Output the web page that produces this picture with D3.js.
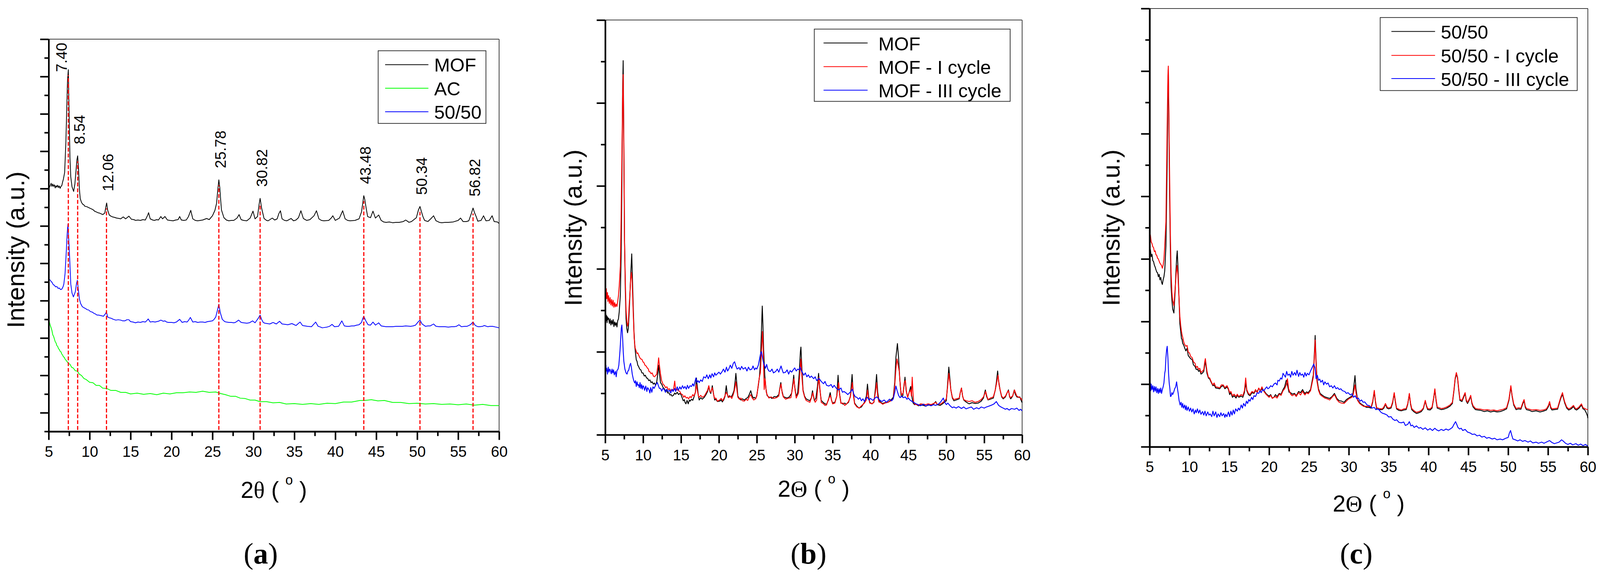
<!DOCTYPE html>
<html>
<head>
<meta charset="utf-8">
<script src="https://cdn.jsdelivr.net/npm/d3@7"></script>
<style>
  html, body { margin: 0; padding: 0; background: #fff; overflow: hidden; width: 100%; height: 100%; }
  svg { display: block; }
</style>
</head>
<body>
<div id="chart"></div>
<script>
// x axis (2 theta, degrees)
var xMajorTicks = [5, 10, 15, 20, 25, 30, 35, 40, 45, 50, 55, 60];
var xMinorTicks = [7.5, 12.5, 17.5, 22.5, 27.5, 32.5, 37.5, 42.5, 47.5, 52.5, 57.5];

// legend names
var aNames = ['MOF', 'AC', '50/50'];
var bNames = ['MOF', 'MOF - I cycle', 'MOF - III cycle'];
var cNames = ['50/50', '50/50 - I cycle', '50/50 - III cycle'];

// peak positions marked in panel (a)
var aPeaks = ['7.40', '8.54', '12.06', '25.78', '30.82', '43.48', '50.34', '56.82'];

// intensity (a.u.), flat lists of 2theta, intensity
var aMOF = [5.0,640, 5.1,632, 5.2,636, 5.3,642, 5.4,634, 5.5,640, 5.6,634, 5.7,638, 5.8,630, 5.9,636, 6.0,632, 6.1,637, 6.2,631, 6.3,635, 6.4,629, 6.5,634, 6.6,636, 6.7,645, 6.8,653, 6.95,670, 7.1,748, 7.2,828, 7.3,908, 7.4,936, 7.5,818, 7.6,708, 7.7,658, 7.85,633, 8.05,621, 8.2,640, 8.35,678, 8.45,703, 8.54,713, 8.65,678, 8.75,628, 8.85,603, 9.0,593, 9.15,588, 9.3,586, 9.45,582, 9.6,582, 9.8,580, 10.0,578, 10.2,576, 10.4,574, 10.6,570, 10.8,568, 11.0,566, 11.2,565, 11.4,563, 11.6,561, 11.85,565, 12.0,583, 12.08,591, 12.2,573, 12.4,560, 12.6,557, 12.8,555, 13.0,554, 13.3,552, 13.6,551, 13.8,550, 14.1,555, 14.4,550, 14.8,557, 15.1,549, 15.4,548, 15.6,546, 15.9,547, 16.2,546, 16.5,548, 16.8,547, 17.1,560, 17.2,566, 17.4,550, 17.7,547, 17.9,546, 18.2,548, 18.4,547, 18.7,556, 18.9,550, 19.2,556, 19.5,547, 19.8,546, 20.2,545, 20.5,547, 20.8,548, 21.0,556, 21.2,547, 21.5,546, 21.8,547, 22.05,555, 22.35,572, 22.6,550, 22.9,546, 23.2,545, 23.5,546, 23.8,547, 24.3,551, 24.6,548, 25.0,558, 25.3,572, 25.5,590, 25.65,625, 25.78,651, 25.9,630, 26.0,600, 26.1,573, 26.4,553, 26.7,547, 27.0,545, 27.3,546, 27.6,546, 28.0,552, 28.25,561, 28.5,548, 28.8,546, 29.2,545, 29.6,552, 29.95,570, 30.2,550, 30.5,556, 30.7,588, 30.82,603, 31.0,578, 31.3,551, 31.6,546, 31.8,545, 32.3,552, 32.6,547, 32.9,550, 33.1,563, 33.3,571, 33.5,550, 33.8,546, 34.1,545, 34.6,551, 34.9,545, 35.2,547, 35.5,553, 35.8,571, 36.1,551, 36.5,546, 36.9,548, 37.4,558, 37.7,571, 38.0,550, 38.3,546, 38.6,545, 39.2,546, 39.5,552, 39.7,558, 40.0,546, 40.5,552, 40.9,571, 41.2,550, 41.5,546, 41.8,545, 42.4,546, 42.9,550, 43.2,568, 43.35,590, 43.48,610, 43.6,600, 43.75,580, 43.95,556, 44.3,553, 44.6,570, 44.9,552, 45.3,560, 45.6,546, 45.9,542, 46.2,541, 46.6,542, 47.0,540, 47.4,541, 47.8,541, 48.3,543, 48.6,547, 49.0,541, 49.3,543, 49.6,548, 49.9,553, 50.15,573, 50.34,582, 50.5,570, 50.7,556, 50.9,546, 51.3,543, 51.7,551, 52.0,558, 52.3,545, 52.7,541, 53.0,540, 53.4,541, 53.8,541, 54.4,542, 55.0,546, 55.3,552, 55.6,543, 56.0,543, 56.3,545, 56.6,563, 56.82,578, 57.0,566, 57.2,556, 57.4,544, 57.8,546, 58.1,558, 58.4,545, 58.8,546, 59.15,558, 59.4,543, 59.8,542, 60.0,538];

var aAC = [5.0,293, 5.1,282, 5.2,274, 5.3,268, 5.4,261, 5.5,250, 5.6,246, 5.7,239, 5.8,232, 5.9,229, 6.0,222, 6.1,220, 6.2,214, 6.3,212, 6.4,207, 6.5,206, 6.6,200, 6.7,198, 6.8,193, 6.9,192, 7.0,187, 7.2,182, 7.4,176, 7.6,174, 7.8,166, 8.0,164, 8.25,157, 8.5,156, 8.75,148, 9.0,145, 9.3,137, 9.6,134, 10.0,127, 10.4,126, 10.8,119, 11.2,119, 11.6,112, 12.1,111, 12.6,106, 13.2,106, 13.8,101, 14.4,101, 15.0,97, 15.8,99, 16.6,96, 17.4,98, 18.2,95, 19.0,99, 19.8,97, 20.6,100, 21.4,100, 22.2,102, 23.0,101, 23.8,104, 24.6,101, 25.4,102, 26.0,98, 26.6,95, 27.2,91, 27.8,91, 28.4,86, 29.0,85, 29.6,81, 30.2,81, 30.8,77, 31.6,77, 32.4,74, 33.2,75, 34.0,71, 35.0,72, 36.0,70, 37.0,72, 38.0,70, 39.0,73, 40.0,72, 41.0,76, 42.0,76, 43.0,80, 43.6,80, 44.4,82, 45.2,79, 46.0,80, 47.0,75, 48.0,75, 49.0,72, 50.0,73, 51.0,71, 52.0,72, 53.0,70, 54.0,71, 55.0,69, 56.0,71, 57.0,68, 58.0,70, 59.0,67, 60.0,67];

var aBlend = [5.0,396, 5.1,393, 5.2,391, 5.3,388, 5.4,386, 5.55,380, 5.7,378, 5.85,374, 6.0,375, 6.15,370, 6.3,371, 6.45,367, 6.6,368, 6.75,374, 6.85,381, 7.0,408, 7.15,465, 7.25,508, 7.35,536, 7.45,498, 7.55,455, 7.7,381, 7.85,358, 8.02,348, 8.25,361, 8.4,383, 8.5,391, 8.62,368, 8.75,343, 8.9,331, 9.1,323, 9.3,320, 9.5,318, 9.7,315, 9.9,314, 10.1,310, 10.3,309, 10.5,306, 10.7,304, 10.9,301, 11.1,301, 11.3,300, 11.5,299, 11.7,298, 11.95,305, 12.05,310, 12.2,296, 12.4,294, 12.6,293, 12.9,290, 13.2,288, 13.5,289, 13.8,288, 14.05,286, 14.3,286, 14.55,289, 14.8,289, 15.0,284, 15.3,283, 15.6,281, 15.9,283, 16.2,282, 16.5,284, 16.8,283, 17.0,287, 17.15,291, 17.4,283, 17.7,284, 18.0,283, 18.4,285, 18.7,288, 19.0,285, 19.2,286, 19.4,283, 19.6,282, 20.0,282, 20.3,281, 20.6,283, 21.0,290, 21.3,282, 21.6,284, 21.9,283, 22.1,288, 22.3,295, 22.6,283, 22.9,284, 23.2,282, 23.5,283, 23.8,283, 24.1,282, 24.4,284, 24.7,285, 25.0,286, 25.2,290, 25.4,296, 25.6,313, 25.78,329, 25.95,308, 26.2,290, 26.5,284, 26.7,283, 27.0,282, 27.3,282, 27.6,281, 27.8,282, 28.2,288, 28.5,282, 28.8,281, 29.2,280, 29.5,281, 29.9,286, 30.2,281, 30.6,293, 30.82,301, 31.0,290, 31.2,282, 31.4,280, 31.7,279, 32.0,278, 32.4,282, 32.8,278, 33.2,285, 33.5,278, 33.9,277, 34.2,276, 34.7,279, 35.2,274, 35.7,283, 36.0,274, 36.3,273, 36.6,272, 37.1,271, 37.6,283, 37.9,272, 38.2,270, 38.4,268, 38.7,269, 39.0,270, 39.3,272, 39.6,277, 39.9,271, 40.4,272, 40.8,286, 41.1,273, 41.4,272, 41.7,272, 42.0,273, 42.3,273, 42.6,275, 42.9,276, 43.2,282, 43.35,292, 43.48,298, 43.6,292, 43.75,285, 44.0,276, 44.3,275, 44.6,283, 44.9,275, 45.3,281, 45.6,273, 45.9,272, 46.2,271, 46.6,271, 47.0,271, 47.4,272, 47.8,272, 48.2,272, 48.6,273, 49.2,272, 49.5,273, 49.8,275, 50.1,283, 50.34,288, 50.5,282, 50.6,278, 51.0,272, 51.3,273, 51.6,273, 52.0,278, 52.3,272, 52.7,271, 53.0,271, 53.4,271, 53.8,270, 54.2,271, 54.5,271, 54.8,272, 55.1,276, 55.4,271, 55.8,272, 56.1,272, 56.5,276, 56.82,283, 57.1,274, 57.4,271, 57.6,271, 58.0,272, 58.2,274, 58.6,271, 58.9,272, 59.2,272, 59.6,270, 60.0,268];

var bMOF = [5.0,319, 5.05,300, 5.1,312, 5.15,295, 5.2,308, 5.25,290, 5.3,305, 5.35,298, 5.45,302, 5.55,288, 5.65,300, 5.75,284, 5.85,296, 5.95,286, 6.05,298, 6.15,280, 6.25,292, 6.35,283, 6.45,290, 6.55,279, 6.65,295, 6.75,300, 6.85,318, 7.0,362, 7.1,460, 7.2,645, 7.3,890, 7.37,968, 7.45,780, 7.55,503, 7.65,380, 7.75,300, 7.85,275, 7.95,264, 8.05,275, 8.15,310, 8.3,380, 8.4,428, 8.5,468, 8.6,400, 8.7,330, 8.8,267, 8.9,230, 9.0,211, 9.1,194, 9.2,190, 9.3,180, 9.4,177, 9.55,170, 9.7,168, 9.85,160, 10.0,160, 10.15,152, 10.3,154, 10.45,147, 10.6,146, 10.75,140, 10.9,142, 11.05,135, 11.2,137, 11.35,131, 11.5,134, 11.65,128, 11.8,137, 11.95,160, 12.05,180, 12.15,160, 12.3,135, 12.47,130, 12.65,122, 12.8,119, 12.95,114, 13.1,114, 13.25,108, 13.4,109, 13.55,103, 13.7,104, 13.83,100, 14.0,102, 14.17,108, 14.3,105, 14.5,110, 14.67,104, 14.85,107, 15.0,104, 15.15,96, 15.3,88, 15.45,91, 15.52,84, 15.65,80, 15.8,89, 15.95,80, 16.1,90, 16.2,87, 16.4,92, 16.55,89, 16.7,97, 16.9,110, 17.03,147, 17.15,125, 17.3,100, 17.4,90, 17.6,96, 17.8,92, 18.07,97, 18.3,104, 18.5,112, 18.67,125, 18.8,112, 18.93,107, 19.05,118, 19.13,127, 19.3,105, 19.44,90, 19.6,92, 19.8,86, 20.1,87, 20.3,90, 20.45,85, 20.63,90, 20.8,99, 20.97,127, 21.1,107, 21.22,97, 21.4,101, 21.6,97, 21.8,104, 22.0,115, 22.15,140, 22.24,159, 22.35,135, 22.5,100, 22.7,94, 22.9,90, 23.1,93, 23.35,90, 23.6,94, 23.8,96, 24.0,104, 24.2,114, 24.4,100, 24.55,95, 24.7,97, 24.85,93, 25.0,102, 25.2,127, 25.35,150, 25.47,184, 25.6,260, 25.72,333, 25.8,290, 25.9,220, 26.05,154, 26.2,120, 26.35,102, 26.6,97, 26.8,97, 27.0,94, 27.3,99, 27.6,98, 27.9,104, 28.1,128, 28.17,135, 28.3,115, 28.5,99, 28.7,97, 29.0,95, 29.3,98, 29.6,108, 29.8,140, 29.87,154, 30.0,125, 30.2,98, 30.4,110, 30.6,160, 30.75,215, 30.82,227, 30.95,170, 31.1,116, 31.3,100, 31.5,93, 31.8,90, 32.0,88, 32.2,96, 32.35,114, 32.5,97, 32.6,88, 32.8,95, 33.0,125, 33.15,159, 33.3,120, 33.5,89, 33.8,83, 34.0,80, 34.2,79, 34.45,90, 34.68,109, 34.85,90, 35.0,82, 35.3,84, 35.55,100, 35.72,154, 35.85,115, 36.1,83, 36.4,79, 36.6,82, 36.8,79, 37.1,84, 37.35,100, 37.57,156, 37.7,115, 37.9,82, 38.2,74, 38.5,69, 38.8,72, 39.2,84, 39.45,100, 39.6,131, 39.75,100, 39.9,84, 40.2,80, 40.45,84, 40.65,120, 40.8,156, 40.95,110, 41.1,90, 41.35,84, 41.6,81, 41.9,83, 42.3,84, 42.7,90, 43.0,97, 43.2,136, 43.35,200, 43.55,236, 43.7,200, 43.85,147, 44.05,100, 44.25,100, 44.45,130, 44.55,149, 44.7,115, 44.9,97, 45.1,110, 45.3,125, 45.45,100, 45.6,83, 45.8,78, 46.0,79, 46.3,75, 46.6,77, 47.0,76, 47.3,74, 47.6,77, 48.0,76, 48.3,79, 48.6,86, 48.8,78, 49.2,76, 49.5,80, 49.8,85, 50.0,88, 50.15,125, 50.33,175, 50.45,150, 50.6,116, 50.8,95, 51.0,88, 51.3,90, 51.7,93, 51.85,110, 52.0,121, 52.15,100, 52.3,90, 52.6,85, 53.0,80, 53.4,83, 53.8,81, 54.2,82, 54.6,87, 54.9,95, 55.15,116, 55.3,100, 55.5,90, 55.8,92, 56.2,95, 56.45,115, 56.6,135, 56.77,165, 56.9,140, 57.1,115, 57.3,98, 57.5,93, 57.8,98, 58.05,110, 58.2,116, 58.35,98, 58.5,93, 58.75,100, 58.97,116, 59.1,105, 59.3,98, 59.5,97, 59.7,98, 59.85,90, 60.0,83];

var bCycle1 = [5.0,370, 5.05,385, 5.1,360, 5.15,378, 5.2,352, 5.3,368, 5.35,345, 5.45,360, 5.55,340, 5.65,355, 5.75,336, 5.85,350, 5.95,333, 6.05,348, 6.15,330, 6.25,342, 6.35,331, 6.45,338, 6.55,332, 6.65,345, 6.75,360, 6.85,385, 7.0,437, 7.1,560, 7.2,717, 7.3,870, 7.37,932, 7.45,760, 7.55,503, 7.65,400, 7.75,324, 7.85,295, 7.95,281, 8.05,290, 8.15,330, 8.25,362, 8.35,400, 8.45,420, 8.55,400, 8.7,314, 8.82,250, 8.95,225, 9.08,217, 9.2,210, 9.3,212, 9.4,207, 9.55,200, 9.7,196, 9.85,195, 10.0,188, 10.1,187, 10.25,180, 10.4,178, 10.55,173, 10.7,170, 10.77,164, 10.9,163, 11.05,158, 11.2,160, 11.35,152, 11.5,150, 11.65,153, 11.8,157, 11.95,180, 12.05,199, 12.15,180, 12.3,157, 12.45,140, 12.65,130, 12.8,128, 12.95,122, 13.15,124, 13.3,117, 13.5,119, 13.65,114, 13.83,117, 14.0,115, 14.17,139, 14.3,115, 14.5,117, 14.67,114, 14.85,112, 15.0,106, 15.2,104, 15.35,97, 15.5,101, 15.7,95, 15.85,97, 16.0,93, 16.2,99, 16.35,96, 16.55,104, 16.7,100, 16.9,110, 17.03,130, 17.15,115, 17.3,100, 17.4,97, 17.6,102, 17.8,97, 18.07,100, 18.3,108, 18.5,115, 18.67,127, 18.8,113, 18.93,110, 19.05,118, 19.13,122, 19.3,104, 19.44,94, 19.6,95, 19.8,87, 20.1,90, 20.3,94, 20.5,88, 20.7,96, 20.97,110, 21.1,105, 21.3,96, 21.5,100, 21.7,94, 21.9,104, 22.05,115, 22.24,137, 22.35,120, 22.5,97, 22.7,92, 22.9,95, 23.1,88, 23.35,87, 23.6,92, 23.8,89, 24.0,98, 24.2,104, 24.4,95, 24.6,90, 24.87,94, 25.0,100, 25.2,130, 25.35,150, 25.47,160, 25.6,210, 25.75,267, 25.85,220, 25.97,117, 26.1,145, 26.25,110, 26.4,102, 26.6,95, 26.9,98, 27.2,94, 27.6,96, 27.9,100, 28.05,120, 28.2,131, 28.35,108, 28.5,98, 28.8,92, 29.2,95, 29.5,96, 29.7,120, 29.9,145, 30.05,115, 30.2,95, 30.5,108, 30.65,150, 30.82,196, 30.95,150, 31.1,113, 31.3,98, 31.5,89, 31.8,86, 32.0,84, 32.2,95, 32.4,109, 32.55,95, 32.7,84, 32.9,90, 33.05,125, 33.2,149, 33.35,115, 33.5,84, 33.8,80, 34.0,76, 34.2,77, 34.45,92, 34.7,102, 34.85,90, 35.0,80, 35.3,82, 35.55,100, 35.8,135, 35.95,100, 36.1,81, 36.4,82, 36.6,76, 36.8,79, 37.1,86, 37.35,98, 37.6,135, 37.75,100, 37.9,80, 38.2,72, 38.5,69, 38.8,75, 39.2,82, 39.45,90, 39.6,116, 39.75,95, 39.9,82, 40.2,80, 40.45,85, 40.65,110, 40.8,135, 40.95,100, 41.1,85, 41.35,83, 41.6,79, 41.9,82, 42.3,84, 42.7,88, 43.0,93, 43.2,127, 43.35,170, 43.5,196, 43.65,180, 43.8,163, 43.95,120, 44.1,103, 44.3,108, 44.45,135, 44.6,140, 44.75,110, 44.9,97, 45.1,110, 45.3,116, 45.4,100, 45.5,149, 45.6,110, 45.7,84, 45.9,78, 46.0,79, 46.3,76, 46.6,80, 47.0,79, 47.3,78, 47.6,80, 48.0,78, 48.3,81, 48.6,84, 48.8,79, 49.2,79, 49.5,83, 49.8,88, 50.0,93, 50.15,120, 50.34,159, 50.45,140, 50.6,116, 50.8,97, 51.0,91, 51.3,93, 51.7,95, 51.85,110, 52.0,121, 52.15,100, 52.3,91, 52.6,88, 53.0,86, 53.4,88, 53.8,84, 54.2,86, 54.6,91, 54.9,98, 55.2,112, 55.35,100, 55.5,91, 55.8,95, 56.2,98, 56.45,115, 56.6,130, 56.82,154, 56.95,130, 57.1,116, 57.3,100, 57.5,95, 57.8,100, 58.05,110, 58.2,114, 58.4,96, 58.75,100, 59.0,116, 59.1,110, 59.3,100, 59.5,98, 59.7,96, 59.85,94, 60.0,89];

var bCycle3 = [5.0,174, 5.05,160, 5.1,180, 5.15,165, 5.2,172, 5.3,157, 5.4,175, 5.5,162, 5.6,170, 5.68,167, 5.8,158, 5.9,170, 6.0,160, 6.1,168, 6.2,155, 6.35,164, 6.45,150, 6.55,166, 6.7,170, 6.8,180, 6.95,217, 7.05,250, 7.12,275, 7.2,284, 7.3,250, 7.38,215, 7.46,190, 7.6,170, 7.75,160, 7.88,157, 8.0,165, 8.1,167, 8.25,180, 8.35,185, 8.45,175, 8.57,157, 8.7,145, 8.8,138, 8.9,134, 9.0,140, 9.1,125, 9.2,137, 9.3,128, 9.4,130, 9.5,122, 9.6,135, 9.7,120, 9.8,130, 9.9,118, 10.0,127, 10.1,124, 10.2,115, 10.35,126, 10.5,112, 10.6,122, 10.77,117, 10.9,108, 11.0,122, 11.15,110, 11.3,124, 11.45,120, 11.6,126, 11.75,132, 11.88,135, 12.0,128, 12.15,120, 12.3,120, 12.45,113, 12.6,120, 12.8,117, 12.95,110, 13.1,118, 13.3,112, 13.5,115, 13.65,108, 13.8,118, 13.95,112, 14.17,120, 14.3,112, 14.5,124, 14.65,115, 14.85,124, 15.0,118, 15.2,127, 15.35,120, 15.52,125, 15.7,118, 15.85,128, 16.0,120, 16.2,127, 16.4,125, 16.55,132, 16.7,126, 16.85,138, 16.97,147, 17.1,135, 17.25,140, 17.4,135, 17.6,142, 17.8,138, 18.0,150, 18.24,147, 18.4,155, 18.6,145, 18.8,155, 18.93,147, 19.1,158, 19.3,150, 19.45,160, 19.6,154, 19.8,158, 20.0,162, 20.2,157, 20.44,164, 20.6,170, 20.8,162, 21.0,175, 21.15,165, 21.3,170, 21.5,180, 21.7,172, 21.9,185, 22.07,189, 22.2,180, 22.4,170, 22.66,174, 22.8,168, 23.0,177, 23.2,170, 23.5,174, 23.7,165, 23.9,175, 24.1,168, 24.35,170, 24.5,178, 24.7,168, 24.85,173, 25.0,170, 25.2,180, 25.35,195, 25.5,210, 25.62,215, 25.75,200, 25.85,190, 26.0,180, 26.15,172, 26.3,182, 26.45,170, 26.6,165, 26.8,164, 27.0,170, 27.2,160, 27.5,164, 27.7,170, 27.9,162, 28.05,170, 28.2,178, 28.35,168, 28.5,160, 28.8,162, 29.0,168, 29.2,157, 29.4,166, 29.6,162, 29.8,168, 30.0,173, 30.2,165, 30.4,170, 30.6,168, 30.7,175, 30.9,165, 31.05,160, 31.2,154, 31.4,160, 31.6,150, 31.8,155, 32.0,148, 32.2,152, 32.5,145, 32.7,150, 32.9,140, 33.2,146, 33.5,138, 33.8,132, 34.0,138, 34.2,128, 34.5,126, 34.8,130, 35.0,122, 35.2,128, 35.5,120, 35.8,116, 36.1,121, 36.3,110, 36.5,112, 36.8,108, 37.0,104, 37.2,108, 37.4,112, 37.6,118, 37.8,105, 38.0,98, 38.2,97, 38.4,92, 38.6,96, 38.8,88, 39.0,93, 39.2,86, 39.4,94, 39.6,97, 39.8,90, 40.0,94, 40.3,89, 40.6,95, 40.8,98, 41.0,95, 41.2,90, 41.5,86, 41.8,90, 42.1,84, 42.5,92, 42.8,88, 43.0,93, 43.2,110, 43.35,126, 43.5,115, 43.7,102, 43.9,96, 44.1,100, 44.3,96, 44.6,98, 44.8,92, 45.0,95, 45.2,90, 45.5,86, 45.7,84, 46.0,80, 46.3,78, 46.6,75, 47.0,79, 47.3,74, 47.6,78, 48.0,75, 48.3,78, 48.6,76, 49.0,80, 49.3,86, 49.6,95, 49.8,84, 50.0,78, 50.2,82, 50.5,75, 50.8,70, 51.0,72, 51.3,69, 51.6,73, 52.0,68, 52.3,72, 52.6,67, 53.0,70, 53.3,72, 53.6,66, 54.0,70, 54.3,67, 54.6,72, 55.0,69, 55.3,72, 55.6,74, 56.0,77, 56.3,80, 56.6,86, 56.9,76, 57.2,72, 57.5,69, 57.8,66, 58.0,68, 58.3,64, 58.6,68, 59.0,66, 59.3,69, 59.6,63, 59.8,66, 60.0,62];

var cBlend = [5.0,517, 5.05,500, 5.1,510, 5.2,492, 5.3,498, 5.4,482, 5.5,479, 5.6,470, 5.7,465, 5.8,458, 5.9,452, 6.0,450, 6.1,440, 6.2,446, 6.3,432, 6.4,438, 6.5,426, 6.6,420, 6.7,432, 6.8,440, 6.9,455, 7.05,520, 7.2,725, 7.3,930, 7.35,975, 7.42,850, 7.5,678, 7.6,520, 7.7,413, 7.8,380, 7.9,356, 8.05,346, 8.2,400, 8.3,450, 8.4,490, 8.47,507, 8.55,470, 8.65,410, 8.8,318, 8.9,300, 9.0,280, 9.07,278, 9.15,268, 9.3,262, 9.4,256, 9.55,248, 9.71,255, 9.85,236, 10.0,232, 10.15,228, 10.36,225, 10.5,212, 10.7,208, 10.85,200, 11.0,201, 11.15,195, 11.3,198, 11.45,188, 11.65,191, 11.8,195, 11.92,212, 12.0,221, 12.1,206, 12.2,190, 12.38,178, 12.55,175, 12.7,168, 12.94,158, 13.1,160, 13.3,152, 13.59,151, 13.8,150, 14.0,156, 14.24,158, 14.45,150, 14.72,155, 14.9,148, 15.05,135, 15.2,140, 15.4,128, 15.6,132, 15.85,126, 16.0,133, 16.2,128, 16.5,131, 16.7,128, 16.9,140, 17.06,165, 17.2,145, 17.4,135, 17.6,132, 17.85,140, 18.1,138, 18.3,145, 18.5,143, 18.7,151, 18.9,145, 19.1,150, 19.35,145, 19.6,138, 19.8,134, 20.0,131, 20.2,135, 20.4,126, 20.6,128, 20.8,135, 21.0,130, 21.27,138, 21.5,136, 21.75,148, 21.95,155, 22.15,172, 22.3,160, 22.5,141, 22.7,140, 22.9,136, 23.2,138, 23.4,132, 23.7,143, 23.95,140, 24.2,148, 24.35,142, 24.5,138, 24.7,142, 24.9,140, 25.2,148, 25.4,170, 25.55,186, 25.7,250, 25.78,288, 25.88,230, 26.0,176, 26.2,150, 26.4,138, 26.7,133, 27.0,129, 27.3,127, 27.6,125, 27.9,130, 28.2,138, 28.5,125, 28.8,119, 29.1,118, 29.4,115, 29.7,122, 30.0,126, 30.3,130, 30.5,134, 30.65,160, 30.78,184, 30.9,150, 31.1,122, 31.35,114, 31.6,110, 31.9,106, 32.2,102, 32.5,102, 32.8,100, 33.0,115, 33.2,143, 33.35,115, 33.5,98, 33.8,96, 34.2,96, 34.4,100, 34.6,110, 34.8,100, 35.0,98, 35.3,100, 35.5,113, 35.7,138, 35.85,115, 36.0,98, 36.3,94, 36.6,93, 36.9,95, 37.2,96, 37.4,110, 37.6,136, 37.75,110, 37.9,96, 38.2,90, 38.5,86, 38.8,88, 39.1,91, 39.35,98, 39.6,118, 39.75,105, 39.9,96, 40.2,95, 40.45,100, 40.65,125, 40.8,148, 40.95,120, 41.1,100, 41.35,98, 41.6,96, 41.9,97, 42.3,100, 42.7,105, 43.0,112, 43.2,145, 43.35,175, 43.5,188, 43.65,178, 43.8,146, 43.95,120, 44.2,117, 44.45,130, 44.6,138, 44.75,118, 44.9,112, 45.1,120, 45.3,131, 45.45,112, 45.6,103, 45.9,96, 46.2,95, 46.6,94, 47.0,91, 47.4,93, 47.8,90, 48.2,92, 48.6,90, 49.0,91, 49.4,94, 49.8,98, 50.1,120, 50.34,155, 50.5,130, 50.7,108, 51.0,96, 51.3,98, 51.6,97, 51.85,112, 52.0,119, 52.15,102, 52.3,96, 52.7,94, 53.0,91, 53.5,93, 54.0,90, 54.4,92, 54.8,95, 55.05,104, 55.2,114, 55.35,100, 55.5,95, 55.8,96, 56.2,97, 56.45,115, 56.6,125, 56.82,136, 56.95,125, 57.1,113, 57.35,100, 57.6,95, 57.9,98, 58.2,104, 58.4,97, 58.6,95, 58.9,100, 59.2,108, 59.4,98, 59.6,96, 59.8,88, 59.95,80, 60.0,74];

var cCycle1 = [5.0,555, 5.05,540, 5.1,548, 5.2,530, 5.3,526, 5.4,518, 5.5,515, 5.6,505, 5.7,507, 5.8,497, 5.9,495, 6.0,488, 6.1,486, 6.2,480, 6.3,475, 6.4,472, 6.5,469, 6.6,462, 6.7,470, 6.8,485, 6.9,520, 7.05,583, 7.2,819, 7.3,960, 7.35,985, 7.42,870, 7.5,725, 7.6,560, 7.7,450, 7.8,400, 7.9,378, 7.95,375, 8.05,365, 8.15,395, 8.25,422, 8.35,450, 8.45,469, 8.55,445, 8.65,403, 8.8,337, 8.9,315, 9.0,299, 9.07,290, 9.15,284, 9.3,270, 9.4,265, 9.55,260, 9.71,262, 9.85,245, 10.0,243, 10.15,234, 10.36,230, 10.5,220, 10.7,216, 10.85,205, 11.0,208, 11.15,200, 11.3,203, 11.45,192, 11.65,196, 11.8,200, 11.92,220, 12.0,228, 12.1,212, 12.2,196, 12.38,180, 12.55,178, 12.7,170, 12.94,160, 13.1,165, 13.3,155, 13.59,154, 13.8,152, 14.0,160, 14.24,160, 14.45,153, 14.72,158, 14.9,150, 15.05,140, 15.2,143, 15.4,132, 15.6,136, 15.85,130, 16.0,136, 16.2,130, 16.5,135, 16.7,132, 16.9,145, 17.06,178, 17.2,148, 17.4,138, 17.6,135, 17.85,143, 18.1,140, 18.3,148, 18.5,140, 18.7,152, 18.9,145, 19.1,155, 19.35,143, 19.6,136, 19.8,132, 20.0,128, 20.2,133, 20.4,125, 20.6,128, 20.8,130, 21.0,126, 21.27,136, 21.5,133, 21.75,145, 21.95,150, 22.15,160, 22.3,176, 22.45,150, 22.7,136, 22.9,132, 23.2,136, 23.4,130, 23.7,140, 23.95,134, 24.2,144, 24.35,138, 24.5,134, 24.7,140, 24.9,137, 25.2,145, 25.4,165, 25.55,180, 25.7,240, 25.78,276, 25.88,220, 26.0,170, 26.2,146, 26.4,135, 26.7,130, 27.0,126, 27.3,124, 27.6,121, 27.9,128, 28.2,135, 28.5,122, 28.8,115, 29.1,113, 29.4,112, 29.7,118, 30.0,124, 30.3,127, 30.5,130, 30.65,145, 30.78,160, 30.9,140, 31.1,120, 31.35,112, 31.6,108, 31.9,104, 32.2,105, 32.5,104, 32.8,103, 33.0,118, 33.2,146, 33.35,118, 33.5,101, 33.8,99, 34.2,98, 34.4,103, 34.6,112, 34.8,103, 35.0,100, 35.3,103, 35.5,116, 35.7,140, 35.85,118, 36.0,100, 36.3,97, 36.6,95, 36.9,98, 37.2,99, 37.4,112, 37.6,138, 37.75,113, 37.9,99, 38.2,93, 38.5,89, 38.8,91, 39.1,94, 39.35,100, 39.6,120, 39.75,107, 39.9,99, 40.2,98, 40.45,103, 40.65,127, 40.8,150, 40.95,123, 41.1,103, 41.35,101, 41.6,99, 41.9,100, 42.3,103, 42.7,108, 43.0,115, 43.2,148, 43.35,178, 43.5,192, 43.65,180, 43.8,150, 43.95,123, 44.2,120, 44.45,133, 44.6,140, 44.75,121, 44.9,115, 45.1,123, 45.3,133, 45.45,115, 45.6,106, 45.9,99, 46.2,98, 46.6,97, 47.0,95, 47.4,96, 47.8,94, 48.2,95, 48.6,93, 49.0,95, 49.4,97, 49.8,101, 50.1,123, 50.34,158, 50.5,133, 50.7,111, 51.0,99, 51.3,101, 51.6,100, 51.85,115, 52.0,122, 52.15,105, 52.3,99, 52.7,97, 53.0,95, 53.5,96, 54.0,94, 54.4,95, 54.8,98, 55.05,107, 55.2,117, 55.35,103, 55.5,98, 55.8,99, 56.2,100, 56.45,118, 56.6,128, 56.82,140, 56.95,128, 57.1,116, 57.35,103, 57.6,98, 57.9,101, 58.2,107, 58.4,100, 58.6,98, 58.9,103, 59.2,111, 59.4,101, 59.6,99, 59.8,97, 60.0,96];

var cCycle3 = [5.0,160, 5.05,150, 5.1,165, 5.15,145, 5.2,162, 5.3,148, 5.4,158, 5.5,142, 5.6,156, 5.7,144, 5.8,155, 5.9,140, 6.0,151, 6.1,138, 6.2,150, 6.3,140, 6.4,152, 6.5,138, 6.6,148, 6.7,155, 6.8,165, 6.9,190, 6.97,198, 7.05,230, 7.13,250, 7.21,260, 7.3,230, 7.38,190, 7.46,165, 7.55,150, 7.62,130, 7.7,131, 7.8,140, 7.9,135, 8.02,141, 8.15,150, 8.27,155, 8.39,168, 8.5,150, 8.59,138, 8.7,120, 8.83,108, 8.95,115, 9.05,102, 9.15,112, 9.25,100, 9.4,108, 9.5,96, 9.6,106, 9.7,94, 9.85,103, 10.0,92, 10.15,100, 10.3,90, 10.45,98, 10.6,85, 10.75,95, 10.86,88, 11.0,98, 11.15,87, 11.3,95, 11.45,84, 11.65,91, 11.8,82, 11.95,92, 12.1,80, 12.3,90, 12.45,82, 12.6,85, 12.8,78, 12.95,92, 13.1,80, 13.3,90, 13.45,76, 13.6,85, 13.8,78, 13.95,88, 14.1,80, 14.3,86, 14.45,76, 14.55,84, 14.7,78, 14.9,90, 15.05,78, 15.2,92, 15.35,82, 15.5,95, 15.65,85, 15.8,98, 16.0,92, 16.15,100, 16.3,95, 16.5,108, 16.65,100, 16.8,112, 17.0,105, 17.15,118, 17.3,112, 17.45,122, 17.6,118, 17.8,128, 17.95,122, 18.1,132, 18.3,130, 18.5,140, 18.7,138, 18.85,145, 19.0,140, 19.2,148, 19.35,145, 19.5,150, 19.7,155, 19.85,150, 20.0,152, 20.2,158, 20.4,155, 20.6,162, 20.8,165, 21.0,160, 21.1,172, 21.27,170, 21.45,178, 21.6,175, 21.75,190, 21.9,185, 22.05,180, 22.2,195, 22.35,185, 22.55,188, 22.7,180, 22.85,195, 23.0,185, 23.2,192, 23.36,185, 23.5,198, 23.7,182, 23.85,192, 24.0,185, 24.2,188, 24.35,180, 24.5,192, 24.65,183, 24.8,190, 25.0,186, 25.2,196, 25.4,205, 25.6,214, 25.75,205, 25.9,176, 26.05,185, 26.2,172, 26.35,175, 26.5,167, 26.7,172, 26.85,160, 27.0,168, 27.2,162, 27.4,165, 27.6,155, 27.8,158, 28.0,152, 28.2,158, 28.4,150, 28.6,153, 28.8,148, 29.0,150, 29.2,145, 29.5,143, 29.7,138, 29.9,140, 30.2,134, 30.4,137, 30.6,128, 30.8,132, 31.0,124, 31.2,126, 31.4,118, 31.6,121, 31.8,115, 32.0,116, 32.3,108, 32.6,106, 32.9,100, 33.2,102, 33.4,96, 33.7,98, 34.0,90, 34.2,87, 34.5,85, 34.8,82, 35.0,77, 35.3,78, 35.5,72, 35.8,68, 36.0,70, 36.3,63, 36.6,62, 36.9,64, 37.1,55, 37.4,58, 37.6,65, 37.8,54, 38.0,56, 38.2,50, 38.5,54, 38.8,48, 39.0,50, 39.3,45, 39.6,49, 39.9,43, 40.2,47, 40.5,42, 40.8,48, 41.0,44, 41.3,41, 41.6,45, 41.9,42, 42.2,46, 42.5,43, 42.8,47, 43.0,50, 43.2,58, 43.4,65, 43.55,58, 43.7,50, 43.9,46, 44.1,48, 44.3,42, 44.6,45, 44.9,38, 45.2,36, 45.5,32, 45.8,33, 46.1,28, 46.4,30, 46.7,25, 47.0,27, 47.3,22, 47.6,24, 48.0,20, 48.3,22, 48.6,18, 49.0,20, 49.3,18, 49.7,22, 50.0,24, 50.15,35, 50.3,42, 50.45,30, 50.6,20, 50.9,18, 51.2,15, 51.5,18, 51.8,14, 52.1,16, 52.5,12, 52.8,15, 53.1,10, 53.5,12, 53.8,9, 54.2,12, 54.5,9, 54.8,12, 55.2,16, 55.5,11, 55.8,8, 56.1,10, 56.4,12, 56.7,18, 56.9,15, 57.2,9, 57.5,6, 57.8,9, 58.1,5, 58.5,8, 58.8,4, 59.1,7, 59.4,3, 59.7,6, 60.0,2];

var SANS = '"Liberation Sans", Arial, sans-serif';
var SERIF = '"Liberation Serif", "Times New Roman", serif';
var W = 4142, H = 1479;

function pairs(flat) {
  var out = [];
  for (var i = 0; i < flat.length; i += 2) out.push({x: flat[i], y: flat[i + 1]});
  return out;
}

// drawn in a 4142 x 1479 coordinate box that scales to whatever the window really offers
var svg = d3.select('#chart').append('svg')
  .attr('viewBox', '0 0 ' + W + ' ' + H)
  .attr('preserveAspectRatio', 'xMidYMid meet')
  .style('width', '100vw')
  .style('height', '100vh')
  .style('background', '#fff');

function drawPanel(p) {
  var g = svg.append('g');
  var x = d3.scaleLinear().domain([5, 60]).range([p.left, p.right]);
  var y = d3.scaleLinear().domain([0, p.yMax]).range([p.bottom, p.top]);

  // thin top / right frame
  g.append('line').attr('x1', p.left).attr('x2', p.right).attr('y1', p.top).attr('y2', p.top)
    .attr('stroke', '#000').attr('stroke-width', 1.5);
  g.append('line').attr('x1', p.right).attr('x2', p.right).attr('y1', p.top).attr('y2', p.bottom)
    .attr('stroke', '#000').attr('stroke-width', 1.5);

  // curves
  var line = d3.line().x(function(d) { return x(d.x); }).y(function(d) { return y(d.y); });
  p.series.forEach(function(s) {
    g.append('path')
      .attr('d', line(pairs(s.data)))
      .attr('fill', 'none')
      .attr('stroke', s.color)
      .attr('stroke-width', p.lineWidth)
      .attr('stroke-linejoin', 'round');
  });

  if (p.after) p.after(g, x, y);

  // y ticks (no labels)
  var nTicks = Math.round(p.yMax / p.yStep);
  var yVals = d3.range(0, nTicks + 1).map(function(i) { return i * p.yStep; });
  var yMajor = yVals.filter(function(v, i) { return i % 2 === p.majorParity; });
  var yMinor = yVals.filter(function(v, i) { return i % 2 !== p.majorParity; });

  var yMin = g.append('g').attr('transform', 'translate(' + p.left + ',0)')
    .call(d3.axisLeft(y).tickValues(yMinor).tickSize(11).tickSizeOuter(0).tickFormat(''));
  var yMaj = g.append('g').attr('transform', 'translate(' + p.left + ',0)')
    .call(d3.axisLeft(y).tickValues(yMajor).tickSize(22).tickSizeOuter(0).tickFormat(''));
  [yMin, yMaj].forEach(function(a) {
    a.selectAll('line').attr('stroke', '#000').attr('stroke-width', 4);
    a.select('.domain').attr('stroke', '#000').attr('stroke-width', 4);
  });

  // x ticks
  var xMin = g.append('g').attr('transform', 'translate(0,' + p.bottom + ')')
    .call(d3.axisBottom(x).tickValues(xMinorTicks).tickSize(12).tickSizeOuter(0).tickFormat(''));
  var xMaj = g.append('g').attr('transform', 'translate(0,' + p.bottom + ')')
    .call(d3.axisBottom(x).tickValues(xMajorTicks).tickSize(22).tickSizeOuter(0).tickFormat(d3.format('d')));
  [xMin, xMaj].forEach(function(a) {
    a.selectAll('line').attr('stroke', '#000').attr('stroke-width', 4);
    a.select('.domain').attr('stroke', '#000').attr('stroke-width', 4);
  });
  xMaj.selectAll('text')
    .attr('y', 66).attr('dy', 0)
    .style('font-family', SANS).style('font-size', '39px').attr('fill', '#000');

  // legend
  var L = p.legend;
  g.append('rect').attr('x', L.x0).attr('y', L.y0)
    .attr('width', L.x1 - L.x0).attr('height', L.y1 - L.y0)
    .attr('fill', '#fff').attr('stroke', '#222').attr('stroke-width', 1.8);
  p.series.forEach(function(s, i) {
    var ly = L.rowY[i];
    g.append('line').attr('x1', L.lx0).attr('x2', L.lx1).attr('y1', ly).attr('y2', ly)
      .attr('stroke', s.color).attr('stroke-width', 2);
    g.append('text').attr('x', L.tx).attr('y', ly + L.base)
      .style('font-family', SANS).style('font-size', '49px').attr('fill', '#000')
      .text(s.name);
  });

  // axis titles
  var t = g.append('text').attr('x', (p.left + p.right) / 2).attr('y', p.xTitleY)
    .attr('text-anchor', 'middle').style('white-space', 'pre')
    .style('font-family', SANS).style('font-size', '60px').attr('fill', '#000');
  t.append('tspan').text('2');
  t.append('tspan').style('font-family', SERIF).text(p.theta);
  t.append('tspan').text(' ( ');
  t.append('tspan').attr('dy', -34).style('font-size', '35px').text('o');
  t.append('tspan').attr('dy', 34).text(' )');

  g.append('text')
    .attr('transform', 'translate(' + p.yTitleX + ',' + p.yTitleY + ') rotate(-90)')
    .attr('text-anchor', 'middle')
    .style('font-family', SANS).style('font-size', '64px').attr('fill', '#000')
    .text('Intensity (a.u.)');

  // sub-figure caption
  var cap = g.append('text').attr('x', p.capX).attr('y', 1450).attr('text-anchor', 'middle')
    .style('font-family', SERIF).style('font-size', '76px').attr('fill', '#000');
  cap.append('tspan').text('(');
  cap.append('tspan').style('font-weight', 'bold').text(p.cap);
  cap.append('tspan').text(')');
}

// panel (a): drop lines and peak labels over the MOF pattern
function markPeaks(g, x, y) {
  var mof = pairs(aMOF);
  aPeaks.forEach(function(lbl) {
    var v = parseFloat(lbl);
    var near = mof.filter(function(d) { return Math.abs(d.x - v) <= 0.15; });
    var top = d3.max(near, function(d) { return d.y; });
    var px = x(v), py = y(top);
    g.append('line')
      .attr('x1', px).attr('x2', px)
      .attr('y1', y(0) - 4).attr('y2', py + 14)
      .attr('stroke', '#ff0000').attr('stroke-width', 3)
      .attr('stroke-dasharray', '10,5');
    var textLen = 76;
    var bx = px + 18, by = py - 30;
    if (by - textLen < y.range()[1] + 8) { bx = px - 4; by = py + 6; }
    g.append('text')
      .attr('transform', 'translate(' + bx + ',' + by + ') rotate(-90)')
      .style('font-family', SANS).style('font-size', '39px').attr('fill', '#000')
      .text(lbl);
  });
}

drawPanel({
  left: 126, right: 1292, top: 93, bottom: 1108,
  yMax: 1015, yStep: 48.33, majorParity: 1, lineWidth: 2,
  series: [
    {name: aNames[0], color: '#000000', data: aMOF},
    {name: aNames[1], color: '#00ff00', data: aAC},
    {name: aNames[2], color: '#0000ff', data: aBlend}
  ],
  after: markPeaks,
  legend: {x0: 979, y0: 123, x1: 1258, y1: 311, lx0: 997, lx1: 1109, tx: 1124, rowY: [159, 220, 281], base: 18},
  theta: 'θ', xTitleY: 1280, yTitleX: 63, yTitleY: 638, capX: 675, cap: 'a'
});

drawPanel({
  left: 1566.7, right: 2646, top: 43.5, bottom: 1116.7,
  yMax: 1073.2, yStep: 107.32, majorParity: 0, lineWidth: 2.3,
  series: [
    {name: bNames[0], color: '#000000', data: bMOF},
    {name: bNames[1], color: '#ff0000', data: bCycle1},
    {name: bNames[2], color: '#0000ff', data: bCycle3}
  ],
  legend: {x0: 2108, y0: 67, x1: 2615, y1: 254, lx0: 2132, lx1: 2246, tx: 2274, rowY: [103, 164, 225], base: 19},
  theta: 'Θ', xTitleY: 1277, yTitleX: 1506, yTitleY: 581, capX: 2093, cap: 'b'
});

drawPanel({
  left: 2976, right: 4110.5, top: 13.7, bottom: 1147.7,
  yMax: 1134, yStep: 81, majorParity: 0, lineWidth: 2.3,
  series: [
    {name: cNames[0], color: '#000000', data: cBlend},
    {name: cNames[1], color: '#ff0000', data: cCycle1},
    {name: cNames[2], color: '#0000ff', data: cCycle3}
  ],
  legend: {x0: 3573, y0: 37, x1: 4083, y1: 226, lx0: 3602, lx1: 3715, tx: 3730, rowY: [73, 135, 195], base: 19},
  theta: 'Θ', xTitleY: 1315, yTitleX: 2898, yTitleY: 581, capX: 3511, cap: 'c'
});
</script>
</body>
</html>
